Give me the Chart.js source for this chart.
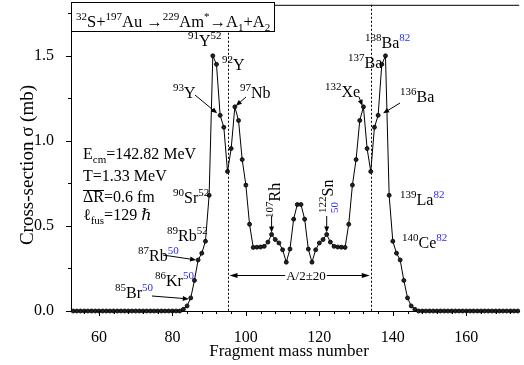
<!DOCTYPE html>
<html><head><meta charset="utf-8">
<script src="https://cdn.jsdelivr.net/npm/chart.js@4/dist/chart.umd.min.js"></script>
<style>html,body{margin:0;padding:0;background:#fff}#wrap{width:524px;height:365px;position:relative}</style>
</head><body><div id="wrap"><canvas id="c" width="524" height="365"></canvas></div>
<script>
// ---- data ----
const massNumbers = [53,54,55,56,57,58,59,60,61,62,63,64,65,66,67,68,69,70,71,72,73,74,75,76,77,78,79,80,81,82,
83,84,85,86,87,88,89,90,91,92,93,94,95,96,97,98,99,100,101,102,103,104,105,106,107,108,109,110,111,112,113,114,
115,116,117,118,119,120,121,122,123,124,125,126,127,128,129,130,131,132,133,134,135,136,137,138,139,140,141,142,143,144,145,146,
147,148,149,150,151,152,153,154,155,156,157,158,159,160,161,162,163,164,165,166,167,168,169,170,171,172,173,174];
const crossSection = [0,0,0,0,0,0,0,0,0,0,0,0,0,0,0,0,0,0,0,0,0,0,0,0,0,0,0,0,0,0,
0.01,0.03,0.077,0.18,0.30,0.34,0.41,0.68,1.50,1.45,1.15,1.08,0.82,0.955,1.20,1.12,0.89,0.74,0.51,0.374,0.375,0.376,0.38,0.405,0.45,0.42,0.40,0.36,0.287,0.364,0.54,0.626,
0.626,0.54,0.364,0.287,0.36,0.40,0.42,0.45,0.405,0.38,0.376,0.375,0.374,0.51,0.74,0.89,1.12,1.20,0.955,0.82,1.08,1.15,1.45,1.50,0.68,0.41,0.34,0.30,0.18,0.077,0.03,0.01,
0,0,0,0,0,0,0,0,0,0,0,0,0,0,0,0,0,0,0,0,0,0,0,0,0,0,0,0];
const xMajorTicks = [60,80,100,120,140,160];
const yMajorTicks = [0.0,0.5,1.0,1.5];
const dividerMasses = [95,134];          // A/2 +- 20 markers
const rangeLabel = "A/2\u00b120";
const xTitle = "Fragment mass number";
const yTitle = "Cross-section \u03c3 (mb)";

const SERIF = '"Liberation Serif", "DejaVu Serif", serif';
const BLUE = '#2a2aff';

function rich(ctx, x, y, segs, main, sup) {
  let cx = x;
  for (const s of segs) {
    const t = s[0], k = s[1] || 'n', col = s[2] || '#000';
    let size = main, dy = 0;
    if (k === 'sup') { size = sup; dy = -Math.round(main*0.42); }
    if (k === 'sub') { size = sup; dy = Math.round(main*0.25); }
    ctx.font = size + 'px ' + SERIF;
    ctx.fillStyle = col;
    ctx.fillText(t, cx, y + dy);
    cx += ctx.measureText(t).width;
  }
  return cx;
}
function arrow(ctx, x1, y1, x2, y2, hl, hw) {
  hl = hl || 6; hw = hw || 2.5;
  const a = Math.atan2(y2 - y1, x2 - x1);
  ctx.beginPath(); ctx.moveTo(x1, y1);
  ctx.lineTo(x2 - Math.cos(a)*hl*0.8, y2 - Math.sin(a)*hl*0.8); ctx.stroke();
  ctx.beginPath();
  ctx.moveTo(x2, y2);
  ctx.lineTo(x2 - Math.cos(a)*hl - Math.sin(a)*hw, y2 - Math.sin(a)*hl + Math.cos(a)*hw);
  ctx.lineTo(x2 - Math.cos(a)*hl + Math.sin(a)*hw, y2 - Math.sin(a)*hl - Math.cos(a)*hw);
  ctx.closePath(); ctx.fill();
}
function noPad(s) { s.paddingTop = 0; s.paddingBottom = 0; s.paddingLeft = 0; s.paddingRight = 0; }

const decor = {
  id: 'decor',
  beforeDatasetsDraw(chart) {
    const {ctx, chartArea: ca, scales: {x}} = chart;
    ctx.save();
    ctx.strokeStyle = '#000'; ctx.lineWidth = 1; ctx.setLineDash([2, 2]);
    for (const a of dividerMasses) {
      const px = Math.round(x.getPixelForValue(a)) + 0.5;
      ctx.beginPath(); ctx.moveTo(px, ca.top); ctx.lineTo(px, ca.bottom); ctx.stroke();
    }
    ctx.restore();
  },
  afterDraw(chart) {
    const {ctx, chartArea: ca, scales: {x, y}} = chart;
    ctx.save();
    ctx.strokeStyle = '#000'; ctx.fillStyle = '#000'; ctx.lineWidth = 1;
    // top frame line
    ctx.beginPath(); ctx.moveTo(ca.left, ca.top + 0.5); ctx.lineTo(ca.right, ca.top + 0.5); ctx.stroke();
    // tick marks (outward)
    for (const t of x.ticks) {
      const px = Math.round(x.getPixelForValue(t.value)) + 0.5;
      const major = xMajorTicks.includes(t.value);
      ctx.beginPath(); ctx.moveTo(px, ca.bottom); ctx.lineTo(px, ca.bottom + (major ? 5 : 3)); ctx.stroke();
    }
    for (const t of y.ticks) {
      const py = Math.round(y.getPixelForValue(t.value)) + 0.5;
      const major = yMajorTicks.some(v => Math.abs(v - t.value) < 1e-6);
      ctx.beginPath(); ctx.moveTo(ca.left, py); ctx.lineTo(ca.left - (major ? 5 : 3), py); ctx.stroke();
    }
    // axis titles
    ctx.font = '17px ' + SERIF; ctx.textAlign = 'center'; ctx.textBaseline = 'alphabetic';
    ctx.fillText(xTitle, 289, 356);
    ctx.font = '19px ' + SERIF;
    ctx.save(); ctx.translate(33, 165); ctx.rotate(-Math.PI / 2); ctx.fillText(yTitle, 0, 0); ctx.restore();
    ctx.textAlign = 'left';

    // range arrow A/2 +- 20
    const xl = x.getPixelForValue(dividerMasses[0]) + 2, xr = x.getPixelForValue(dividerMasses[1]) - 1;
    const ya = 275;
    arrow(ctx, (xl + xr) / 2, ya + 0.5, xl, ya + 0.5, 8, 2.5);
    arrow(ctx, (xl + xr) / 2, ya + 0.5, xr, ya + 0.5, 8, 2.5);
    ctx.font = '13px ' + SERIF;
    const lw = ctx.measureText(rangeLabel).width;
    const lx = 306 - lw / 2;
    ctx.fillStyle = '#fff'; ctx.fillRect(lx - 1, ya - 8, lw + 2, 14);
    ctx.fillStyle = '#000'; ctx.fillText(rangeLabel, lx, ya + 5);

    // title box
    ctx.fillStyle = '#fff'; ctx.fillRect(ca.left, 2.5, 203, 29);
    ctx.strokeRect(ca.left + 0.5, 2.5, 203, 29);
    rich(ctx, 76, 27, [['32','sup'],['S+'],['197','sup'],['Au \u2192'],['229','sup'],['Am'],['*','sup'],['\u2192A'],['1','sub'],['+A'],['2','sub']], 16.5, 11);

    // isotope labels
    const M = 16, S = 11;
    rich(ctx, 188, 46, [['91','sup'],['Y'],['52','sup']], M, S);
    rich(ctx, 222, 70, [['92','sup'],['Y']], M, S);
    rich(ctx, 173, 98, [['93','sup'],['Y']], M, S);
    rich(ctx, 240, 98, [['97','sup'],['Nb']], M, S);
    rich(ctx, 325, 97, [['132','sup'],['Xe']], M, S);
    rich(ctx, 348, 68, [['137','sup'],['Ba']], M, S);
    rich(ctx, 365, 48, [['138','sup'],['Ba'],['82','sup',BLUE]], M, S);
    rich(ctx, 400, 102, [['136','sup'],['Ba']], M, S);
    rich(ctx, 400, 205, [['139','sup'],['La'],['82','sup',BLUE]], M, S);
    rich(ctx, 402, 248, [['140','sup'],['Ce'],['82','sup',BLUE]], M, S);
    rich(ctx, 173, 203, [['90','sup'],['Sr'],['52','sup']], M, S);
    rich(ctx, 167, 241, [['89','sup'],['Rb'],['52','sup']], M, S);
    rich(ctx, 138, 261, [['87','sup'],['Rb'],['50','sup',BLUE]], M, S);
    rich(ctx, 155, 286, [['86','sup'],['Kr'],['50','sup',BLUE]], M, S);
    rich(ctx, 115, 298, [['85','sup'],['Br'],['50','sup',BLUE]], M, S);

    // rotated labels
    ctx.save(); ctx.translate(280, 218); ctx.rotate(-Math.PI / 2);
    rich(ctx, 0, 0, [['107','sup'],['Rh']], M, S); ctx.restore();
    ctx.save(); ctx.translate(333, 213); ctx.rotate(-Math.PI / 2);
    ctx.font = S + 'px ' + SERIF; ctx.fillStyle = '#000';
    ctx.fillText('122', 0, -7);
    const w122 = ctx.measureText('122').width;
    ctx.fillStyle = BLUE; ctx.fillText('50', 0, 5);
    rich(ctx, w122, 0, [['Sn']], M, S); ctx.restore();

    // arrows to points
    const P = (a) => [x.getPixelForValue(a), y.getPixelForValue(crossSection[massNumbers.indexOf(a)])];
    ctx.fillStyle = '#000'; ctx.strokeStyle = '#000'; ctx.lineWidth = 1;
    let p = P(93); arrow(ctx, 195, 95, p[0] - 3, p[1] - 2, 6, 2.5);
    p = P(97); arrow(ctx, 246, 97, p[0] + 1, p[1] - 1, 6, 2.5);
    p = P(132); arrow(ctx, 359, 97, p[0] - 1, p[1] - 1, 6, 2.5);
    p = P(136); arrow(ctx, 400, 103, p[0] + 5, p[1] - 2, 6, 2.5);
    p = P(87); arrow(ctx, 163, 255, p[0] - 2, p[1], 6, 2.5);
    p = P(85); arrow(ctx, 152, 296, p[0] - 2, p[1] + 1, 6, 2.5);
    p = P(107); arrow(ctx, p[0], 216, p[0], p[1] - 2, 6, 2.5);
    p = P(122); arrow(ctx, p[0], 216, p[0], p[1] - 2, 6, 2.5);

    // parameter block
    const B = 16, BS = 11;
    rich(ctx, 83, 159, [['E'],['cm','sub'],['=142.82 MeV']], B, BS);
    rich(ctx, 83, 181, [['T=1.33 MeV']], B, BS);
    ctx.font = B + 'px ' + SERIF;
    const wdr = ctx.measureText('\u0394R').width;
    rich(ctx, 83, 202, [['\u0394R'],['=0.6 fm']], B, BS);
    ctx.beginPath(); ctx.moveTo(83, 190.5); ctx.lineTo(83 + wdr, 190.5); ctx.stroke();
    rich(ctx, 83, 220, [['\u2113'],['fus','sub'],['=129 '],['\u210f']], B, BS);
    ctx.restore();
  }
};

new Chart(document.getElementById('c'), {
  type: 'scatter',
  data: { datasets: [{
    data: massNumbers.map((a, i) => ({x: a, y: crossSection[i]})),
    showLine: true, borderColor: '#000', borderWidth: 1, tension: 0,
    pointRadius: 2, pointBackgroundColor: '#222', pointBorderColor: '#000', pointBorderWidth: 0.8,
    clip: false
  }]},
  options: {
    responsive: false, animation: false, devicePixelRatio: 1,
    layout: { padding: { top: 2, right: 0, bottom: 0, left: 0 } },
    plugins: { legend: { display: false }, tooltip: { enabled: false } },
    scales: {
      x: { type: 'linear', min: 52.4, max: 174.4,
        afterFit(s) { s.height = 54; noPad(s); },
        grid: { display: false }, border: { display: true, color: '#000', width: 1 },
        ticks: { stepSize: 4, includeBounds: false, autoSkip: false, maxRotation: 0, padding: 9, color: '#000',
          font: { family: 'Liberation Serif', size: 16 },
          callback: (v) => xMajorTicks.includes(v) ? String(v) : '' } },
      y: { type: 'linear', min: 0, max: 1.8,
        afterFit(s) { s.width = 71; noPad(s); },
        grid: { display: false }, border: { display: true, color: '#000', width: 1 },
        ticks: { stepSize: 0.25, includeBounds: false, autoSkip: false, padding: 9, color: '#000',
          font: { family: 'Liberation Serif', size: 16 },
          callback: (v) => yMajorTicks.some(m => Math.abs(m - v) < 1e-6) ? v.toFixed(1) : '' } }
    }
  },
  plugins: [decor]
});
</script></body></html>
